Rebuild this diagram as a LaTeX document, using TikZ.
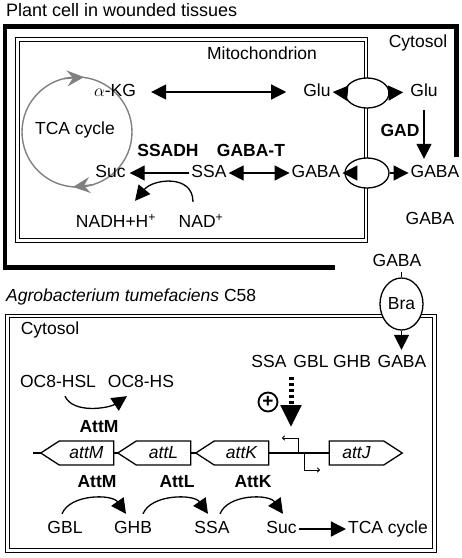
\documentclass[tikz,border=0pt]{standalone}
\usepackage{fontspec}
\setmainfont{Liberation Sans}
\usetikzlibrary{arrows.meta,shapes.geometric,shapes.symbols}

\newcommand\figfont{\fontsize{17.5}{20}\selectfont}

\tikzset{
  lbl/.style={font=\figfont, inner sep=1.5pt, text height=12.5pt, text depth=3.5pt},
  enz/.style={lbl, font=\figfont\bfseries},
  oneway/.style={-{Triangle[length=15pt,width=15pt]}},
  twoway/.style={{Triangle[length=15pt,width=15pt]}-{Triangle[length=15pt,width=15pt]}},
  membrane/.style={double, line width=1.1pt, double distance=2.4pt},
  porter/.style={ellipse, draw, fill=white, line width=1.3pt, inner sep=0pt,
    minimum width=44pt, minimum height=30pt},
  gene/.style={signal, draw, fill=white, line width=1.3pt, minimum width=73pt,
    minimum height=24pt, signal pointer angle=66, inner sep=0pt, font=\figfont\itshape},
  tca/.style={draw=black!50, line width=1.4pt},
  tcahead/.style={tca, -{Stealth[length=17pt,width=16pt,inset=6pt]}},
  promoter/.style={line width=0.9pt, -{To[length=3pt,width=5pt]}},
}

\begin{document}
\begin{tikzpicture}[x=1pt, y=-1pt, line width=1.3pt]
\useasboundingbox (0,0) rectangle (462,558);

% plant cell
\draw[line width=4.8pt] (335,267.5) -| (5,26.5) -| (456.5,157);
\node[lbl, anchor=west, font=\fontsize{18}{21}\selectfont] (plant) at (4,12) {Plant cell in wounded tissues};
\node[lbl] (cyt1) at (418,43) {Cytosol};

% mitochondrion
\draw[membrane] (17.5,39.5) rectangle (366,240.5);
\node[lbl] (mito) at (262,55) {Mitochondrion};

\draw[tca] (77,132) circle[radius=55];
\draw[tcahead] (64,78.6) -- (84,77.1);
\draw[tcahead] (93,184.7) -- (73,187);
\node[lbl] (tca1) at (75,130) {TCA cycle};

\node[lbl] (akg) at (115,92) {$\alpha$-KG};
\node[lbl] (glu1) at (317,92) {Glu};
\node[lbl] (glu2) at (424,92) {Glu};
\node[enz] (ssadh) at (168,152) {SSADH};
\node[enz] (gabat) at (251,152) {GABA-T};
\node[enz] (gad) at (400,132) {GAD};
\node[lbl] (suc1) at (110.5,173) {Suc};
\node[lbl] (ssa1) at (209,173) {SSA};
\node[lbl] (gaba1) at (316,173) {GABA};
\node[lbl] (gaba2) at (435,173) {GABA};
\node[lbl] (nadh) at (116,223) {NADH+H\textsuperscript{+}};
\node[lbl] (nad) at (201,223) {NAD\textsuperscript{+}};
\node[lbl] (gaba3) at (430,220) {GABA};

\node[porter] (t1) at (367,93) {};
\node[porter] (t2) at (367,173) {};

\draw[twoway, shorten <=13pt, shorten >=15pt] (akg) -- (glu1);
\draw[twoway] (ssa1) -- (gaba1);
\draw[oneway, shorten >=2pt] (ssa1) -- (suc1);
\draw[oneway] (t1.west) -- (glu1.east);
\draw[oneway, shorten >=5pt] (t1.east) -- (glu2.west);
\draw[oneway] (t2.west) -- (gaba1.east);
\draw[oneway] (t2.east) -- (gaba2.west);
\draw[oneway, shorten <=8pt, shorten >=4pt] (glu2.south) -- (glu2.south |- gaba2.north);
\draw[oneway] ([xshift=-8pt,yshift=11pt]nad.north)
  .. controls +(0,-28) and +(18,-22) .. ([xshift=19pt,yshift=12pt]nadh.north);

% bacterium
\node[lbl, anchor=west] (agro) at (4,297) {\textit{Agrobacterium tumefaciens} C58};
\draw[membrane] (7.5,316) rectangle (434.5,550.5);
\node[lbl] (cyt2) at (50,330) {Cytosol};

\node[lbl] (gaba4) at (397,262) {GABA};
\node[porter, minimum width=43pt, minimum height=52pt, font=\figfont] (bra) at (401.5,304) {Bra};
\node[lbl] (ssa2) at (269,363) {SSA};
\node[lbl] (gbl1) at (311,363) {GBL};
\node[lbl] (ghb1) at (352,363) {GHB};
\node[lbl] (gaba5) at (402,363) {GABA};
\draw[line width=1pt] (bra.north) -- (bra.north |- gaba4.south);
\draw[oneway, shorten >=3pt] (bra.south) -- (bra.south |- gaba5.north);

\node[lbl] (hsl) at (58,383) {OC8-HSL};
\node[lbl] (hs) at (141,383) {OC8-HS};
\draw[oneway] ([xshift=7pt,yshift=-3pt]hsl.south)
  .. controls +(8,18) and +(-18,12) .. ([xshift=-14pt,yshift=-3pt]hs.south);
\node[enz] (attm1) at (99,428) {AttM};

\node[circle, draw, line width=1.8pt, minimum size=19pt, inner sep=0pt,
  font=\fontsize{19}{20}\selectfont\bfseries] (plus) at (268,402) {+};
\coordinate (sig) at (291,377);
\coordinate (prom) at (291,427);
\draw[line width=5pt, dash pattern=on 3pt off 3pt,
  -{Triangle[length=22pt,width=20pt]}] (sig) -- (prom);

% att operon
\coordinate (lineL) at (33,453);
\coordinate (lineR) at (402,453);
\draw (lineL) -- (lineR);
\node[gene, signal to=west] (attM) at (86.5,453) {attM};
\node[gene, signal to=west] (attL) at (163.5,453) {attL};
\node[gene, signal to=west] (attK) at (241.5,453) {attK};
\node[gene, signal to=east] (attJ) at (356.5,453) {attJ};
\coordinate (prL) at (298,453);
\coordinate (prR) at (304,453);
\draw[promoter] (prL) |- +(-16,-15);
\draw[promoter] (prR) |- +(16,17);

\node[enz] (attm2) at (97,483) {AttM};
\node[enz] (attl2) at (177,483) {AttL};
\node[enz] (attk2) at (253,483) {AttK};

\node[lbl] (gbl2) at (65,529) {GBL};
\node[lbl] (ghb2) at (133,529) {GHB};
\node[lbl] (ssa3) at (212,529) {SSA};
\node[lbl] (suc2) at (281.5,529) {Suc};
\node[lbl] (tca2) at (388,529) {TCA cycle};
\draw[oneway] (suc2) -- (tca2);
\draw[oneway] ([xshift=-3pt,yshift=5pt]gbl2.north)
  .. controls +(8,-20) and +(-14,-20) .. ([xshift=-7pt,yshift=5pt]ghb2.north);
\draw[oneway] ([xshift=10pt,yshift=5pt]ghb2.north)
  .. controls +(8,-20) and +(-14,-20) .. ([xshift=-4pt,yshift=5pt]ssa3.north);
\draw[oneway] ([xshift=8pt,yshift=5pt]ssa3.north)
  .. controls +(8,-20) and +(-14,-20) .. ([xshift=1.5pt,yshift=5pt]suc2.north);
\end{tikzpicture}
\end{document}
